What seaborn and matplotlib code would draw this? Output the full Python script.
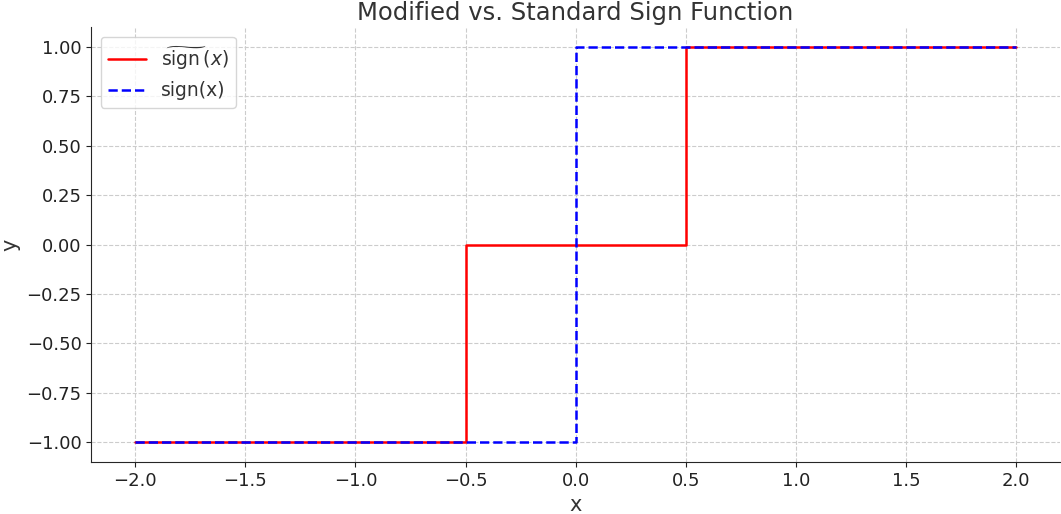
import numpy as np
import pandas as pd
import matplotlib
matplotlib.use("Agg")
import matplotlib.pyplot as plt
import seaborn as sns

# step breakpoints of the two functions
mod_x = [-2.0, -0.5, -0.5, 0.5, 0.5, 2.0]
mod_y = [-1.0, -1.0, 0.0, 0.0, 1.0, 1.0]
std_x = [-2.0, 0.0, 0.0, 2.0]
std_y = [-1.0, -1.0, 1.0, 1.0]

sns.set_style("ticks")
plt.rcParams['font.family'] = ['DejaVu Sans']

fig, ax = plt.subplots(figsize=(10.61, 5.14), dpi=100)
fig.subplots_adjust(left=0.086, right=0.999, top=0.947, bottom=0.101)

sns.lineplot(x=mod_x, y=mod_y, sort=False, estimator=None, color='red', linewidth=1.8,
             label=r'$\widetilde{\mathrm{sign}}\,(x)$', ax=ax)
sns.lineplot(x=std_x, y=std_y, sort=False, estimator=None, color='blue', linewidth=1.8,
             linestyle='--', label='sign(x)', ax=ax)

ax.set_title('Modified vs. Standard Sign Function', fontsize=17.5, color='#333333', pad=5)
ax.set_xlabel('x', fontsize=15, color='#333333')
ax.set_ylabel('y', fontsize=15, color='#333333')
ax.tick_params(labelsize=13, colors='#222222')
ax.set_xticks(np.arange(-2.0, 2.01, 0.5))
ax.set_yticks(np.arange(-1.0, 1.01, 0.25))
ax.set_yticklabels([f'{v:.2f}'.replace('-', '\u2212') for v in np.arange(-1.0, 1.01, 0.25)])
ax.set_xticklabels([f'{v:.1f}'.replace('-', '\u2212') for v in np.arange(-2.0, 2.01, 0.5)])
ax.grid(True, linestyle='--', color='#cccccc', linewidth=0.8)
sns.despine(ax=ax)

leg = ax.legend(loc='upper left', fontsize=13.5, frameon=True)
for t in leg.get_texts():
    t.set_color('#333333')

plt.savefig('out.png', dpi=100)
